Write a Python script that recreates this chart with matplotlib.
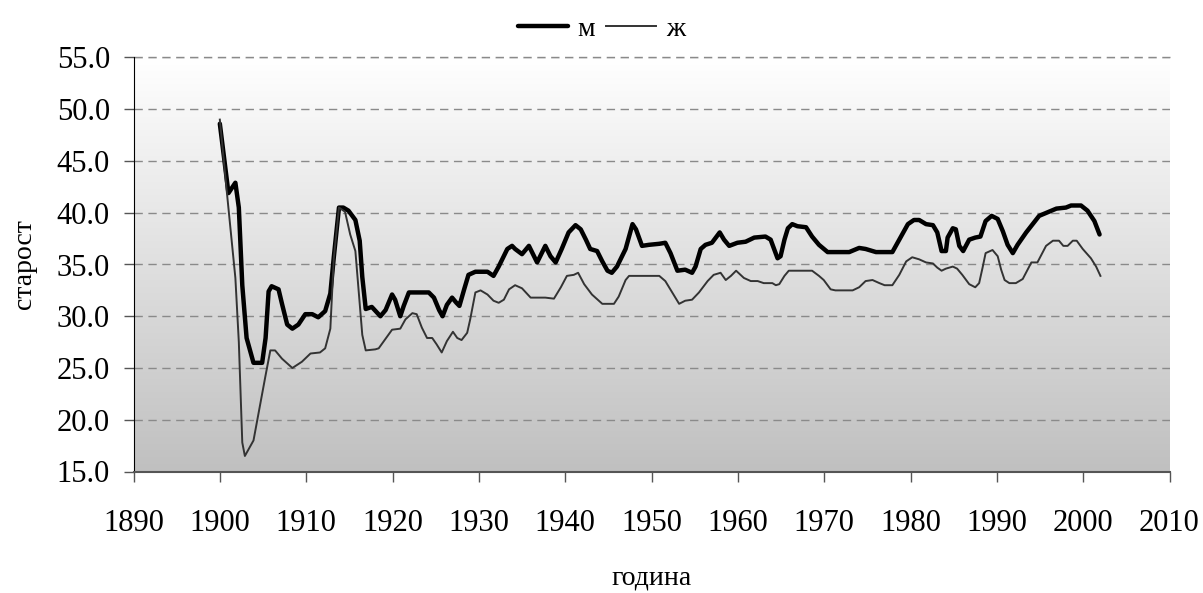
# coding=utf-8
import numpy as np
import matplotlib.pyplot as plt
from matplotlib.colors import LinearSegmentedColormap

# м (men)
years_m = [1900.0, 1901.0, 1901.8, 1902.2, 1902.6, 1903.1, 1903.9, 1904.9, 1905.3, 1905.65,
           1906.0, 1906.8, 1907.2, 1907.8, 1908.4, 1909.1, 1909.9, 1910.7, 1911.4, 1912.2,
           1912.8, 1913.2, 1913.8, 1914.3, 1914.9, 1915.7, 1916.2, 1916.5, 1916.9, 1917.6,
           1918.6, 1919.2, 1919.95, 1920.3, 1920.9, 1921.3, 1921.9, 1924.2, 1924.8, 1925.4,
           1925.8, 1926.3, 1926.9, 1927.4, 1927.75, 1928.3, 1928.8, 1929.6, 1931.0, 1931.7,
           1932.3, 1933.3, 1933.85, 1934.2, 1935.0, 1935.8, 1936.75, 1937.7, 1938.3, 1938.9,
           1939.6, 1940.4, 1941.2, 1941.8, 1942.4, 1942.9, 1943.7, 1944.3, 1944.9, 1945.4,
           1946.0, 1947.0, 1947.8, 1948.2, 1948.9, 1949.7, 1950.9, 1951.6, 1952.2, 1953.0,
           1953.9, 1954.7, 1955.1, 1955.7, 1956.25, 1957.0, 1957.9, 1958.4, 1959.0, 1959.95,
           1960.9, 1961.9, 1963.2, 1963.8, 1964.6, 1964.95, 1965.4, 1965.8, 1966.3, 1966.9,
           1967.9, 1968.6, 1969.4, 1970.4, 1972.9, 1974.05, 1974.8, 1976.0, 1977.9, 1978.7,
           1979.7, 1980.4, 1981.0, 1981.8, 1982.6, 1983.1, 1983.6, 1984.1, 1984.3, 1984.9,
           1985.25, 1985.65, 1986.1, 1986.8, 1987.5, 1988.1, 1988.7, 1989.4, 1990.1, 1990.7,
           1991.25, 1991.85, 1992.4, 1993.4, 1994.9, 1996.9, 1998.0, 1998.6, 1999.75, 2000.5,
           2001.3, 2001.9]
age_m = [48.6, 41.9, 42.9, 40.5, 33.0, 27.9, 25.5, 25.5, 27.9, 32.4,
         32.9, 32.6, 31.2, 29.2, 28.8, 29.2, 30.2, 30.2, 29.9, 30.5,
         32.2, 35.7, 40.5, 40.5, 40.2, 39.3, 37.3, 33.8, 30.7, 30.9,
         30.0, 30.6, 32.1, 31.6, 30.0, 31.0, 32.3, 32.3, 31.8, 30.6,
         30.0, 31.1, 31.8, 31.3, 31.0, 32.6, 34.0, 34.3, 34.3, 33.9,
         34.8, 36.5, 36.8, 36.5, 36.0, 36.8, 35.2, 36.8, 35.8, 35.2,
         36.5, 38.1, 38.8, 38.4, 37.4, 36.5, 36.3, 35.3, 34.4, 34.2,
         34.8, 36.5, 38.9, 38.4, 36.8, 36.9, 37.0, 37.1, 36.1, 34.4,
         34.5, 34.2, 34.8, 36.5, 36.9, 37.1, 38.1, 37.4, 36.8, 37.1,
         37.2, 37.6, 37.7, 37.4, 35.6, 35.8, 37.4, 38.5, 38.9, 38.7,
         38.6, 37.7, 36.9, 36.2, 36.2, 36.6, 36.5, 36.2, 36.2, 37.4,
         38.9, 39.3, 39.3, 38.9, 38.8, 38.1, 36.3, 36.3, 37.6, 38.5,
         38.4, 36.8, 36.3, 37.4, 37.6, 37.7, 39.2, 39.7, 39.4, 38.2,
         36.9, 36.1, 36.9, 38.1, 39.7, 40.4, 40.5, 40.7, 40.7, 40.2,
         39.2, 37.9]

# ж (women)
years_f = [1900.0, 1900.8, 1901.8, 1902.2, 1902.6, 1902.9, 1903.9, 1904.3, 1905.3, 1905.85,
           1906.4, 1907.2, 1908.4, 1909.5, 1910.5, 1911.6, 1912.2, 1912.8, 1913.2, 1913.8,
           1914.5, 1915.1, 1915.7, 1916.5, 1916.9, 1918.0, 1918.4, 1919.0, 1919.95, 1920.9,
           1921.5, 1922.3, 1922.8, 1923.4, 1924.0, 1924.6, 1925.1, 1925.7, 1926.3, 1927.0,
           1927.5, 1928.0, 1928.65, 1929.0, 1929.6, 1930.2, 1931.0, 1931.7, 1932.3, 1932.9,
           1933.5, 1934.2, 1935.0, 1936.0, 1937.7, 1938.7, 1939.5, 1940.2, 1941.0, 1941.5,
           1942.2, 1943.1, 1944.3, 1945.65, 1946.2, 1947.0, 1947.4, 1950.9, 1951.6, 1952.4,
           1953.2, 1953.9, 1954.7, 1955.5, 1956.5, 1957.2, 1958.0, 1958.6, 1959.2, 1959.8,
           1960.7, 1961.5, 1962.3, 1963.0, 1964.0, 1964.4, 1964.8, 1965.4, 1965.9, 1968.6,
           1969.4, 1969.95, 1970.75, 1971.3, 1973.3, 1974.05, 1974.8, 1975.6, 1976.4, 1977.0,
           1977.9, 1978.7, 1979.5, 1980.2, 1981.0, 1981.8, 1982.6, 1983.1, 1983.6, 1984.1,
           1984.9, 1985.4, 1986.0, 1986.8, 1987.5, 1987.95, 1988.35, 1988.7, 1989.5, 1990.1,
           1990.5, 1990.9, 1991.45, 1992.2, 1993.0, 1994.0, 1994.7, 1995.7, 1996.5, 1997.2,
           1997.7, 1998.2, 1998.8, 1999.25, 1999.95, 2000.9, 2001.5, 2002.0]
age_f = [49.0, 42.1, 33.7, 27.5, 17.8, 16.5, 18.0, 19.8, 24.3, 26.7,
         26.7, 25.9, 25.0, 25.6, 26.4, 26.5, 26.9, 28.8, 35.6, 40.5,
         40.1, 37.9, 36.3, 28.2, 26.7, 26.8, 26.9, 27.6, 28.7, 28.8,
         29.7, 30.3, 30.2, 28.9, 27.9, 27.9, 27.3, 26.5, 27.6, 28.5,
         27.9, 27.7, 28.4, 29.7, 32.3, 32.5, 32.1, 31.5, 31.3, 31.6,
         32.6, 33.0, 32.7, 31.8, 31.8, 31.7, 32.8, 33.9, 34.0, 34.2,
         33.1, 32.1, 31.2, 31.2, 31.9, 33.5, 33.9, 33.9, 33.4, 32.3,
         31.2, 31.5, 31.6, 32.3, 33.4, 34.0, 34.2, 33.5, 33.9, 34.4,
         33.7, 33.4, 33.4, 33.2, 33.2, 33.0, 33.1, 33.9, 34.4, 34.4,
         33.9, 33.5, 32.6, 32.5, 32.5, 32.8, 33.4, 33.5, 33.2, 33.0,
         33.0, 34.0, 35.3, 35.7, 35.5, 35.2, 35.1, 34.7, 34.4, 34.6,
         34.8, 34.6, 34.0, 33.1, 32.8, 33.2, 34.7, 36.1, 36.4, 35.8,
         34.5, 33.5, 33.2, 33.2, 33.6, 35.2, 35.2, 36.8, 37.3, 37.3,
         36.8, 36.8, 37.3, 37.3, 36.5, 35.6, 34.8, 33.9]

x_ticks = [1890, 1900, 1910, 1920, 1930, 1940, 1950, 1960, 1970, 1980, 1990, 2000, 2010]
y_ticks = [15, 20, 25, 30, 35, 40, 45, 50, 55]

plt.rcParams['font.family'] = ['Liberation Serif', 'DejaVu Serif']

fig = plt.figure(figsize=(12.03, 5.93), dpi=100)
ax = fig.add_axes([133.5 / 1203, 1 - 471.5 / 593, (1169.5 - 133.5) / 1203, (471.5 - 57.5) / 593])

# gradient background, white at top to gray at bottom
cmap = LinearSegmentedColormap.from_list('bg', ['#c0c0c0', '#ffffff'])
grad = np.linspace(0, 1, 256).reshape(-1, 1)
ax.imshow(grad, extent=[1890, 2010, 15, 55], origin='lower', aspect='auto',
          cmap=cmap, zorder=0)

ax.plot(years_m, age_m, color='black', lw=3.2, label='м', zorder=3,
        solid_joinstyle='round', solid_capstyle='round')
ax.plot(years_f, age_f, color='#333333', lw=1.4, label='ж', zorder=3)

ax.set_xlim(1890, 2010)
ax.set_ylim(15, 55)
ax.set_xticks(x_ticks)
ax.set_yticks(y_ticks)
ax.set_yticklabels(['%.1f' % v for v in y_ticks])

ax.set_axisbelow(True)
ax.yaxis.grid(True, color='#8a8a8a', linestyle=(0, (6, 4)), linewidth=1.0, zorder=1)

ax.spines['top'].set_visible(False)
ax.spines['right'].set_visible(False)
ax.spines['left'].set_color('black')
ax.spines['bottom'].set_color('#555555')
ax.spines['bottom'].set_linewidth(1.5)

ax.tick_params(axis='y', direction='out', length=7, width=1, color='#555555',
               labelsize=22, pad=10)
ax.tick_params(axis='x', direction='out', length=7, width=1, color='#555555',
               labelsize=22, pad=20)

# dashed line at the top limit
ax.axhline(55, color='#8a8a8a', linestyle=(0, (6, 4)), linewidth=1.0, zorder=1, clip_on=False)

ax.set_xlabel('година', fontsize=20, labelpad=20)
ax.set_ylabel('старост', fontsize=20, labelpad=14)

fig.legend(loc='upper center', bbox_to_anchor=(0.5, 1.0), ncol=2, frameon=False,
           fontsize=20, handlelength=1.8, handletextpad=0.35, columnspacing=0.4,
           borderaxespad=0.2)

fig.savefig('out.png', dpi=100)
